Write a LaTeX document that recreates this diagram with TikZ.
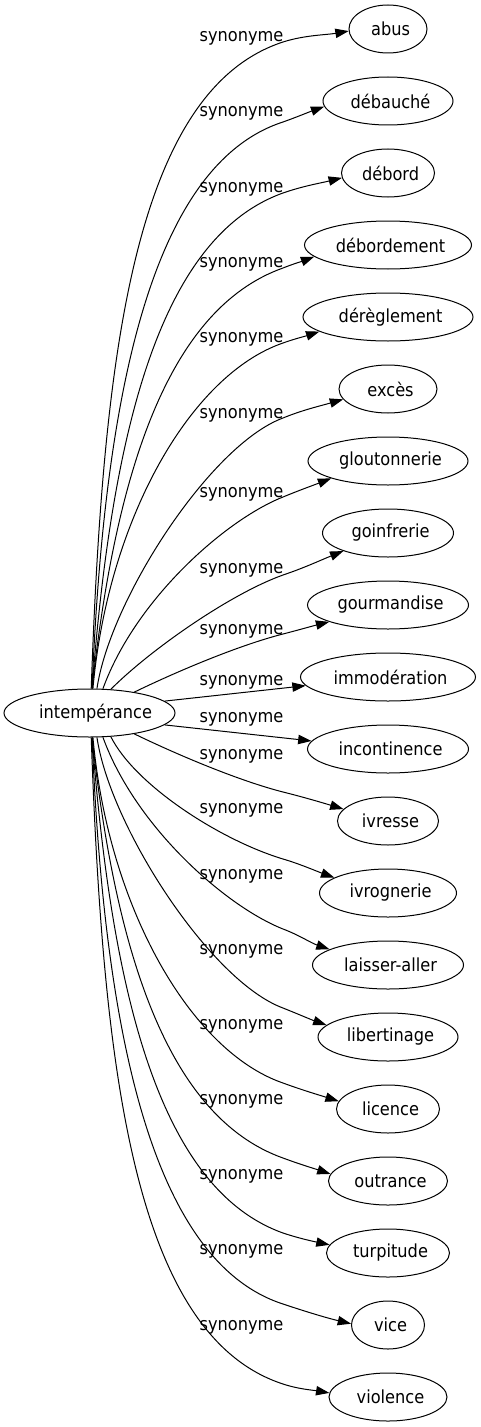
\documentclass[tikz,border=0pt]{standalone}
\usepackage{fontspec}
\setmainfont{DejaVu Sans Condensed}
\usetikzlibrary{shapes.geometric,arrows.meta}
\begin{document}
\begin{tikzpicture}[x=0.75pt,y=-0.75pt,
  every node/.style={font=\fontsize{13.5pt}{16pt}\selectfont},
  word/.style={ellipse,draw,line width=0.75pt,inner sep=0pt,minimum height=36pt,minimum width=#1,
    execute at begin node=\hspace*{1.9pt},execute at end node=\hspace*{-1.9pt}},
  root/.style={ellipse,draw,line width=0.75pt,inner sep=0pt,minimum height=36pt,minimum width=#1,
    execute at begin node=\hspace*{4.6pt},execute at end node=\hspace*{-4.6pt}},
  lab/.style={anchor=base,inner sep=0pt},
  edge/.style={line width=0.75pt,-{Triangle[length=10pt,width=7pt]}}]
\useasboundingbox (0,0) rectangle (481,1427);
% nodes
\node[root=128.25pt] (src) at (89.5,713) {intempérance};
\node[word=58.5pt]   (t1)  at (388,29)   {abus};
\node[word=97.5pt]   (t2)  at (388,101)  {débauché};
\node[word=69.75pt]  (t3)  at (388,173)  {débord};
\node[word=125.25pt] (t4)  at (388,245)  {débordement};
\node[word=127.5pt]  (t5)  at (388,317)  {dérèglement};
\node[word=73.5pt]   (t6)  at (388,389)  {excès};
\node[word=120pt]    (t7)  at (388,461)  {gloutonnerie};
\node[word=98.25pt]  (t8)  at (388,533)  {goinfrerie};
\node[word=120.75pt] (t9)  at (388,605)  {gourmandise};
\node[word=131.25pt] (t10) at (388,677)  {immodération};
\node[word=120.75pt] (t11) at (388,749)  {incontinence};
\node[word=75.75pt]  (t12) at (388,821)  {ivresse};
\node[word=102.75pt] (t13) at (388,893)  {ivrognerie};
\node[word=113.25pt] (t14) at (388,965)  {laisser-aller};
\node[word=105pt]    (t15) at (388,1037) {libertinage};
\node[word=77.25pt]  (t16) at (388,1109) {licence};
\node[word=89.25pt]  (t17) at (388,1181) {outrance};
\node[word=92.25pt]  (t18) at (388,1253) {turpitude};
\node[word=54.75pt]  (t19) at (388,1325) {vice};
\node[word=88.5pt]   (t20) at (388,1397) {violence};
% labels
\node[lab] (l1)  at (241.5,42)   {synonyme};
\node[lab] (l2)  at (241.5,117)  {synonyme};
\node[lab] (l3)  at (241.5,193)  {synonyme};
\node[lab] (l4)  at (241.5,267)  {synonyme};
\node[lab] (l5)  at (241.5,342)  {synonyme};
\node[lab] (l6)  at (241.5,418)  {synonyme};
\node[lab] (l7)  at (241.5,497)  {synonyme};
\node[lab] (l8)  at (241.5,573)  {synonyme};
\node[lab] (l9)  at (241.5,634)  {synonyme};
\node[lab] (l10) at (241.5,685)  {synonyme};
\node[lab] (l11) at (241.5,722)  {synonyme};
\node[lab] (l12) at (241.5,759)  {synonyme};
\node[lab] (l13) at (241.5,813)  {synonyme};
\node[lab] (l14) at (241.5,879)  {synonyme};
\node[lab] (l15) at (241.5,954)  {synonyme};
\node[lab] (l16) at (241.5,1029) {synonyme};
\node[lab] (l17) at (241.5,1104) {synonyme};
\node[lab] (l18) at (241.5,1179) {synonyme};
\node[lab] (l19) at (241.5,1254) {synonyme};
\node[lab] (l20) at (241.5,1330) {synonyme};
% edges
\draw[edge] (src.86.6) .. controls (103,358) and (133,91) .. (283,42) .. controls (305,35) and (326,35) .. (t1.183);
\draw[edge] (src.84.3) .. controls (104,399) and (150,165) .. (283,122) .. controls (297,117) and (309,112) .. (t2.185.3);
\draw[edge] (src.84.3) .. controls (112,430) and (160,237) .. (283,193) .. controls (303,186) and (321,183) .. (t3.186);
\draw[edge] (src.84.3) .. controls (115,480) and (165,310) .. (283,268) .. controls (293,264) and (303,261) .. (t4.189.8);
\draw[edge] (src.82) .. controls (108,520) and (190,375) .. (283,343) .. controls (294,339) and (306,336) .. (t5.192);
\draw[edge] (src.73.3) .. controls (110,600) and (210,445) .. (283,418) .. controls (302.5,410) and (320,406) .. (t6.193);
\draw[edge] (src.61.6) .. controls (135,600) and (225,520) .. (283,497) .. controls (300,490) and (314,485) .. (t7.197.5);
\draw[edge] (src.48.7) .. controls (150,650) and (230,594) .. (283,575) .. controls (304,568) and (321,560) .. (t8.202);
\draw[edge] (src.25.4) .. controls (180,670) and (240,645) .. (283,634) .. controls (298.5,630) and (312.5,626) .. (t9.196);
\draw[edge] (src.9.5) -- (t10.186.5);
\draw[edge] (src.-9.5) -- (t11.174);
\draw[edge] (src.-25.4) .. controls (180,756) and (240,781) .. (283,792) .. controls (303,797) and (320,802) .. (t12.165);
\draw[edge] (src.-48.7) .. controls (135,785) and (220,840) .. (283,859) .. controls (300,864) and (316,871) .. (t13.164);
\draw[edge] (src.-61.6) .. controls (135,826) and (225,906) .. (283,929) .. controls (299,935) and (311,943) .. (t14.165);
\draw[edge] (src.-73.3) .. controls (110,826) and (210,981) .. (283,1008) .. controls (298,1014) and (312,1020) .. (t15.169);
\draw[edge] (src.-82) .. controls (108,906) and (190,1051) .. (283,1083) .. controls (302,1090) and (319,1095) .. (t16.171);
\draw[edge] (src.-84.3) .. controls (115,946) and (165,1116) .. (283,1158) .. controls (299,1164) and (314,1168.5) .. (t17.173);
\draw[edge] (src.-84.3) .. controls (112,996) and (160,1189) .. (283,1233) .. controls (298,1238) and (311.5,1241) .. (t18.172.5);
\draw[edge] (src.-84.3) .. controls (104,1027) and (150,1261) .. (283,1304) .. controls (307,1312) and (327,1318) .. (t19.178.5);
\draw[edge] (src.-86.6) .. controls (103,1068) and (133,1335) .. (283,1384) .. controls (298,1389) and (312,1390) .. (t20.176);
\end{tikzpicture}
\end{document}
